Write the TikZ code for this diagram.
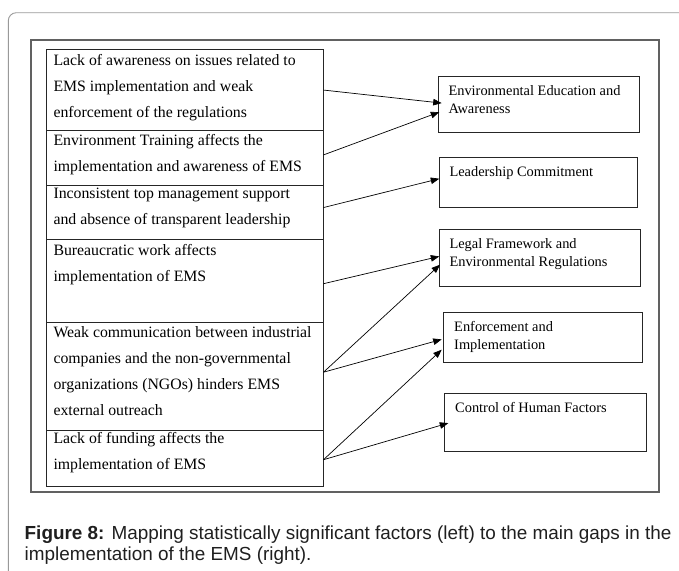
\documentclass[tikz,border=0pt]{standalone}
\usepackage{fontspec}
\setmainfont{Liberation Serif}
\newfontfamily\capfont{Liberation Sans}
\usetikzlibrary{arrows.meta}

\begin{document}
\begin{tikzpicture}[x=1pt, y=-1pt,
  rowbox/.style={draw=black!85, line width=0.8pt, minimum width=276.7pt,
    anchor=north west, inner sep=0pt},
  % multi-line nodes sit on the baseline of their last line
  rowtext/.style={anchor=base west, align=left, inner sep=0pt,
    font=\fontsize{15.8}{26.1}\selectfont},
  gapbox/.style={draw=black!85, line width=0.8pt, anchor=north west, inner sep=0pt},
  gaptext/.style={anchor=base west, align=left, inner sep=0pt,
    font=\fontsize{14.4}{18.3}\selectfont},
  link/.style={line width=0.7pt, -{Triangle[length=8.5pt,width=6.5pt]}}]
\useasboundingbox (0,0) rectangle (679,570);
\clip (0,0) rectangle (679,570);

% page card and figure frame
\draw[black!40, line width=0.9pt, rounded corners=8pt] (8.3,600) -- (8.3,12.7) -- (700,12.7);
\draw[black!62, line width=1.6pt] (30.7,40) rectangle (659,491.7);

% left column: factors
\node[rowbox, minimum height=80.7pt] (r1) at (46,49.3) {};
\node[rowbox, minimum height=55pt]   (r2) at (46,130) {};
\node[rowbox, minimum height=54.3pt] (r3) at (46,185) {};
\node[rowbox, minimum height=83pt]   (r4) at (46,239.3) {};
\node[rowbox, minimum height=108pt]  (r5) at (46,322.3) {};
\node[rowbox, minimum height=55.4pt] (r6) at (46,430.3) {};

\node[rowtext] (t1) at (53.3,117.2) {Lack of awareness on issues related to\\EMS implementation and weak\\enforcement of the regulations};
\node[rowtext] (t2) at (53.3,171.1) {Environment Training affects the\\implementation and awareness of EMS};
\node[rowtext] (t3) at (53.3,224.4) {Inconsistent top management support\\and absence of transparent leadership};
\node[rowtext] (t4) at (53.3,281.1) {Bureaucratic work affects\\implementation of EMS};
\node[rowtext] (t5) at (53.3,415.6) {Weak communication between industrial\\companies and the non-governmental\\organizations (NGOs) hinders EMS\\external outreach};
\node[rowtext] (t6) at (53.3,469.4) {Lack of funding affects the\\implementation of EMS};

% right column: gaps
\node[gapbox, minimum width=201.6pt, minimum height=56.6pt] (b1) at (437.7,75.7) {};
\node[gapbox, minimum width=198.6pt, minimum height=49.7pt] (b2) at (438.7,157.3) {};
\node[gapbox, minimum width=201.6pt, minimum height=56.4pt] (b3) at (438.7,229.3) {};
\node[gapbox, minimum width=199pt,   minimum height=50.3pt] (b4) at (443.3,312) {};
\node[gapbox, minimum width=202pt,   minimum height=57.4pt] (b5) at (444.3,393.3) {};

\node[gaptext] (g1) at (448.3,113.3) {Environmental Education and\\Awareness};
\node[gaptext] (g2) at (449.3,176.7) {Leadership Commitment};
\node[gaptext] (g3) at (449.3,266.3) {Legal Framework and\\Environmental Regulations};
\node[gaptext] (g4) at (454,349.3) {Enforcement and\\Implementation};
\node[gaptext] (g5) at (455,412.7) {Control of Human Factors};

% mapping arrows
\draw[link] (r1.east) -- ([xshift=4pt,yshift=1.3pt]b1.west);
\draw[link] ([yshift=3pt]r2.east) -- ([xshift=1.6pt,yshift=-7.7pt]b1.west);
\draw[link] ([yshift=5pt]r3.east) -- ([xshift=0.6pt,yshift=3.85pt]b2.west);
\draw[link] ([yshift=-2.5pt]r4.east) -- ([xshift=0.6pt,yshift=1.5pt]b3.west);
\draw[link] ([yshift=4.5pt]r5.east) -- ([xshift=1.3pt,yshift=-6.8pt]b3.west);
\draw[link] ([yshift=4.5pt]r5.east) -- ([xshift=-1.6pt,yshift=-1.85pt]b4.west);
\draw[link] ([yshift=-1.3pt]r6.east) -- ([xshift=-1.6pt,yshift=-12.15pt]b4.west);
\draw[link] ([yshift=-1.3pt]r6.east) -- ([xshift=4pt,yshift=-0.7pt]b5.west);

% caption
\node[anchor=base west, align=left, inner sep=0pt, text=black!88,
  font=\capfont\fontsize{18.9}{20.5}\selectfont] (cap) at (24.5,560)
  {\textbf{Figure 8:} Mapping statistically significant factors (left) to the main gaps in the\\implementation of the EMS (right).};
\end{tikzpicture}
\end{document}
